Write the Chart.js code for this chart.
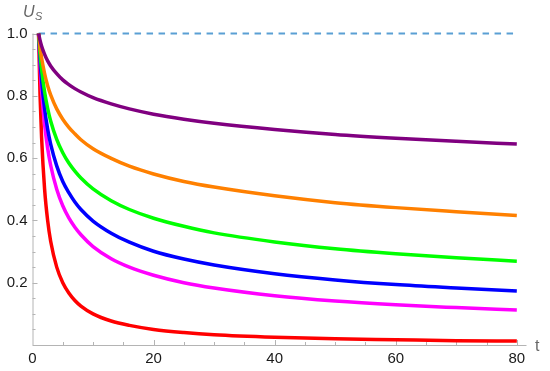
<!DOCTYPE html>
<html>
<head>
<meta charset="utf-8">
<script src="https://cdn.jsdelivr.net/npm/chart.js@4.4.1/dist/chart.umd.min.js"></script>
<style>
  html, body { margin: 0; padding: 0; background: #fff; }
  #wrap { width: 550px; height: 371px; position: relative; }
</style>
</head>
<body>
<div id="wrap"><canvas id="usChart"></canvas></div>
<script>
// values
const tValues = [1, 1.25, 1.5, 2, 2.5, 3, 4, 5, 6, 7, 8, 10, 13, 16, 20, 25, 30, 40, 50, 60, 70, 80];
const purpleU = [1, 0.978, 0.960, 0.933, 0.912, 0.896, 0.871, 0.851, 0.836, 0.823, 0.812, 0.794, 0.774, 0.758, 0.741, 0.725, 0.712, 0.692, 0.676, 0.664, 0.654, 0.645];
const orangeU = [1, 0.956, 0.922, 0.871, 0.832, 0.803, 0.758, 0.725, 0.699, 0.678, 0.659, 0.630, 0.599, 0.574, 0.549, 0.525, 0.507, 0.479, 0.457, 0.441, 0.428, 0.416];
const greenU = [1, 0.935, 0.885, 0.812, 0.760, 0.719, 0.660, 0.617, 0.584, 0.558, 0.536, 0.501, 0.463, 0.435, 0.407, 0.381, 0.360, 0.331, 0.309, 0.293, 0.280, 0.269];
const blueU = [1, 0.915, 0.850, 0.758, 0.693, 0.645, 0.575, 0.525, 0.489, 0.459, 0.435, 0.398, 0.359, 0.330, 0.301, 0.276, 0.257, 0.229, 0.209, 0.194, 0.183, 0.173];
const magentaU = [1, 0.894, 0.816, 0.707, 0.632, 0.577, 0.500, 0.447, 0.408, 0.378, 0.354, 0.316, 0.277, 0.250, 0.224, 0.200, 0.183, 0.158, 0.141, 0.129, 0.120, 0.112];
const redU = [1, 0.800, 0.667, 0.500, 0.400, 0.333, 0.250, 0.200, 0.167, 0.143, 0.125, 0.100, 0.077, 0.063, 0.050, 0.040, 0.033, 0.025, 0.020, 0.017, 0.014, 0.0125];
const refT = [1, 80];
const refU = [1, 1];
const xTickLabels = [0, 20, 40, 60, 80];
const yTickLabels = [0.2, 0.4, 0.6, 0.8, 1.0];

const axisColor = "#b4b4b4";
const labelColor = "#1a1a1a";

function pts(xs, ys) {
  return xs.map((x, i) => ({ x: x, y: ys[i] }));
}

function curve(data, color) {
  return {
    data: pts(tValues, data),
    borderColor: color,
    borderWidth: 3.5,
    pointRadius: 0,
    fill: false,
    clip: 6,
    cubicInterpolationMode: "monotone",
  };
}

// axes + inward ticks, Mathematica style
const axesPlugin = {
  id: "axes",
  beforeDatasetsDraw(chart) {
    const ctx = chart.ctx;
    const xs = chart.scales.x;
    const ys = chart.scales.y;
    const x0 = xs.getPixelForValue(0);
    const y0 = ys.getPixelForValue(0);
    ctx.save();
    ctx.strokeStyle = axisColor;
    ctx.lineWidth = 1;
    ctx.beginPath();
    ctx.moveTo(chart.chartArea.left, y0 + 0.5);
    ctx.lineTo(chart.chartArea.right, y0 + 0.5);
    ctx.moveTo(x0 + 0.5, chart.chartArea.top);
    ctx.lineTo(x0 + 0.5, chart.chartArea.bottom);
    for (let v = 5; v <= 80; v += 5) {
      const p = Math.round(xs.getPixelForValue(v)) + 0.5;
      const len = v % 20 === 0 ? 5 : 3;
      ctx.moveTo(p, y0);
      ctx.lineTo(p, y0 - len);
    }
    for (let k = 1; k <= 20; k++) {
      const v = k * 0.05;
      const p = Math.round(ys.getPixelForValue(v)) + 0.5;
      const len = k % 4 === 0 ? 5 : 3;
      ctx.moveTo(x0, p);
      ctx.lineTo(x0 + len, p);
    }
    ctx.stroke();

    // axis titles
    ctx.fillStyle = "#666";
    ctx.textBaseline = "alphabetic";
    ctx.textAlign = "left";
    ctx.font = "italic 16px 'Liberation Sans', Arial, sans-serif";
    ctx.fillText("U", 23, 17);
    ctx.font = "italic 11px 'Liberation Sans', Arial, sans-serif";
    ctx.fillText("S", 35, 20);
    ctx.font = "16px 'Liberation Sans', Arial, sans-serif";
    ctx.fillText("t", 535, 351);
    ctx.restore();
  },
};

new Chart(document.getElementById("usChart"), {
  type: "line",
  data: {
    datasets: [
      curve(purpleU, "#800080"),
      curve(orangeU, "#ff8000"),
      curve(greenU, "#00ff00"),
      curve(blueU, "#0000ff"),
      curve(magentaU, "#ff00ff"),
      curve(redU, "#ff0000"),
      {
        data: pts(refT, refU),
        borderColor: "#5a9fd4",
        borderWidth: 2,
        borderDash: [6.5, 5.5],
        pointRadius: 0,
        fill: false,
        clip: 6,
      },
    ],
  },
  options: {
    responsive: true,
    maintainAspectRatio: false,
    animation: false,
    layout: { padding: { left: 0, right: 23.5, top: 33.5, bottom: 0 } },
    plugins: { legend: { display: false }, tooltip: { enabled: false } },
    scales: {
      x: {
        type: "linear",
        min: 0,
        max: 81.6,
        afterFit: (s) => { s.height = 26; },
        grid: { display: false, drawTicks: false },
        border: { display: false },
        ticks: {
          stepSize: 20,
          includeBounds: false,
          padding: 5,
          color: labelColor,
          font: { family: "'Liberation Sans', Arial, sans-serif", size: 15 },
          callback: (v) => (xTickLabels.includes(v) ? String(v) : ""),
          maxRotation: 0,
        },
      },
      y: {
        min: 0,
        max: 1,
        afterFit: (s) => { s.width = 32.5; },
        grid: { display: false, drawTicks: false },
        border: { display: false },
        ticks: {
          stepSize: 0.2,
          padding: 5,
          color: labelColor,
          font: { family: "'Liberation Sans', Arial, sans-serif", size: 15 },
          callback: (v) => {
            const r = Math.round(v * 10) / 10;
            return yTickLabels.includes(r) ? r.toFixed(1) : "";
          },
        },
      },
    },
  },
  plugins: [axesPlugin],
});
</script>
</body>
</html>
